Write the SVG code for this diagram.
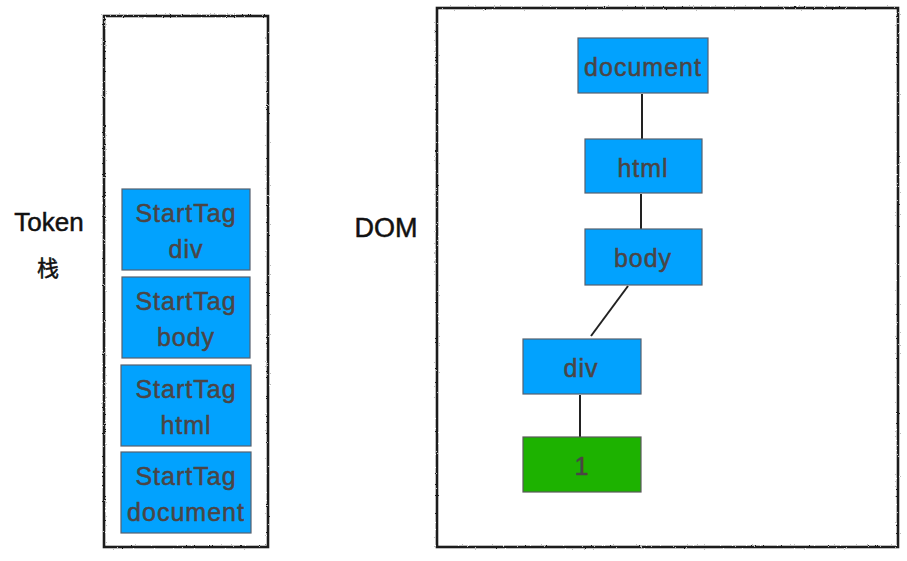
<svg xmlns="http://www.w3.org/2000/svg" width="907" height="561" viewBox="0 0 907 561">
<style>
.frame{fill:none;stroke:#1a1a1a;stroke-width:2.6;filter:url(#rough)}
.blue{fill:#02a2fe;stroke:#56606e;stroke-width:1.2}
.green{fill:#1db200;stroke:#5a5a5a;stroke-width:1.2}
.lbl{font-family:"Liberation Sans","Noto Sans",sans-serif;font-size:25px;fill:#4b4545;stroke:#4b4545;stroke-width:0.5;text-anchor:middle;letter-spacing:1px}
.title{font-family:"Liberation Sans","Noto Sans","Noto Sans CJK SC",sans-serif;fill:#111;stroke:#111;stroke-width:0.5;text-anchor:middle}
.edge{stroke:#222;stroke-width:2;fill:none}
</style>
<defs>
<filter id="rough" x="-5%" y="-5%" width="110%" height="110%">
<feTurbulence type="fractalNoise" baseFrequency="0.9" numOctaves="2" seed="3" result="n"/>
<feDisplacementMap in="SourceGraphic" in2="n" scale="2.2"/>
</filter>
</defs>
<rect width="907" height="561" fill="#fff"/>
<g id="token-label">
<text class="title" x="49" y="231" font-size="26">Token</text>
<text class="title" x="48" y="276" font-size="22">栈</text>
</g>
<g id="dom-label">
<text class="title" x="386" y="237" font-size="27">DOM</text>
</g>
<g id="stack-frame"><rect class="frame" x="104" y="16" width="164" height="531"/></g>
<g id="dom-frame"><rect class="frame" x="437" y="8" width="461" height="539"/></g>
<g id="stack-div">
<rect class="blue" x="122" y="189" width="128" height="81"/>
<text class="lbl" x="186" y="222">StartTag</text>
<text class="lbl" x="186" y="258">div</text>
</g>
<g id="stack-body">
<rect class="blue" x="122" y="277" width="128" height="81"/>
<text class="lbl" x="186" y="310">StartTag</text>
<text class="lbl" x="186" y="346">body</text>
</g>
<g id="stack-html">
<rect class="blue" x="121" y="365" width="130" height="81"/>
<text class="lbl" x="186" y="398">StartTag</text>
<text class="lbl" x="186" y="434">html</text>
</g>
<g id="stack-document">
<rect class="blue" x="121" y="452" width="130" height="81"/>
<text class="lbl" x="186" y="485">StartTag</text>
<text class="lbl" x="186" y="521">document</text>
</g>
<g id="connectors">
<line class="edge" x1="642" y1="94" x2="642" y2="139"/>
<line class="edge" x1="641" y1="194" x2="641" y2="229"/>
<line class="edge" x1="628" y1="286" x2="591" y2="336"/>
<line class="edge" x1="580" y1="395" x2="580" y2="437"/>
</g>
<g id="dom-document">
<rect class="blue" x="578" y="38" width="130" height="55"/>
<text class="lbl" x="643" y="76">document</text>
</g>
<g id="dom-html">
<rect class="blue" x="585" y="139" width="117" height="54"/>
<text class="lbl" x="643" y="177">html</text>
</g>
<g id="dom-body">
<rect class="blue" x="585" y="229" width="117" height="56"/>
<text class="lbl" x="643" y="267">body</text>
</g>
<g id="dom-div">
<rect class="blue" x="523" y="339" width="118" height="55"/>
<text class="lbl" x="581" y="377">div</text>
</g>
<g id="dom-text">
<rect class="green" x="523" y="437" width="118" height="55"/>
<text class="lbl" x="582" y="475">1</text>
</g>
</svg>
